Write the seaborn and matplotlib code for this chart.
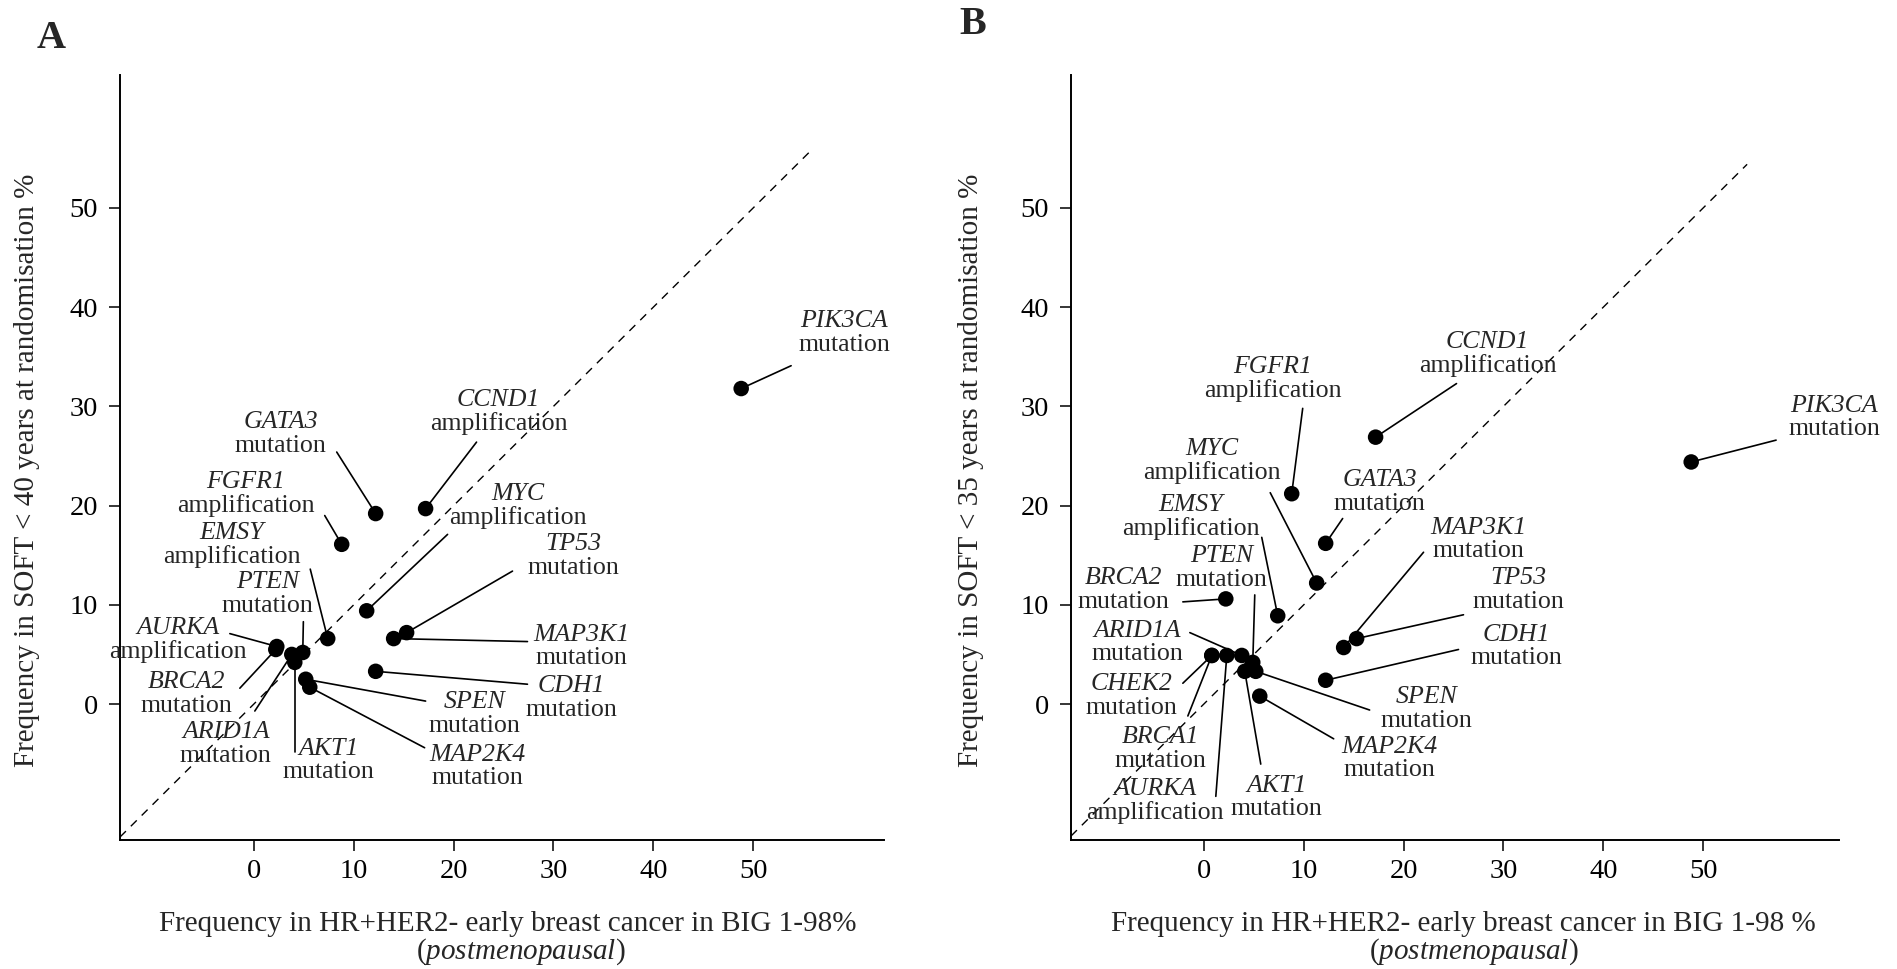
import numpy as np
import pandas as pd
import matplotlib
matplotlib.use("Agg")
import matplotlib.pyplot as plt
import seaborn as sns

# Alteration frequencies (%) per gene
genes = ["PIK3CA", "CCND1", "TP53", "MAP3K1", "GATA3", "CDH1", "MYC", "FGFR1", "EMSY",
         "MAP2K4", "SPEN", "PTEN", "AKT1", "ARID1A", "AURKA", "BRCA2", "CHEK2", "BRCA1"]
alteration = ["mutation", "amplification", "mutation", "mutation", "mutation", "mutation",
              "amplification", "amplification", "amplification", "mutation", "mutation",
              "mutation", "mutation", "mutation", "amplification", "mutation", "mutation",
              "mutation"]
big_1_98 = [48.8, 17.2, 15.3, 14.0, 12.2, 12.2, 11.3, 8.8, 7.4,
            5.6, 5.2, 4.9, 4.1, 3.8, 2.3, 2.2, 0.8, 0.8]
soft_under_40 = [31.8, 19.7, 7.2, 6.6, 19.2, 3.3, 9.4, 16.1, 6.6,
                 1.7, 2.5, 5.2, 4.2, 5.0, 5.8, 5.5, np.nan, np.nan]
soft_under_35 = [24.4, 26.9, 6.6, 5.7, 16.2, 2.4, 12.2, 21.2, 8.9,
                 0.8, 3.3, 4.2, 3.3, 4.9, 4.9, 10.6, 4.9, 4.9]
tick_values = [0, 10, 20, 30, 40, 50]

# Label placement: gene -> (label centre, leader-line start), in data units
labels_a = {
    "PIK3CA": ((59.1, 37.4), (53.8, 34.1)),
    "CCND1": ((24.5, 29.5), (22.3, 26.4)),
    "GATA3": ((2.7, 27.2), (8.3, 25.4)),
    "FGFR1": ((-0.8, 21.2), (7.1, 19.0)),
    "MYC": ((26.4, 20.0), (19.4, 17.1)),
    "EMSY": ((-2.2, 16.1), (5.65, 13.6)),
    "TP53": ((32.0, 14.9), (25.9, 13.4)),
    "PTEN": ((1.4, 11.1), (4.96, 8.3)),
    "AURKA": ((-7.6, 6.5), (-2.4, 7.1)),
    "MAP3K1": ((32.8, 5.8), (27.4, 6.3)),
    "BRCA2": ((-6.7, 1.0), (-1.4, 1.6)),
    "CDH1": ((31.8, 0.6), (27.4, 2.0)),
    "SPEN": ((22.1, -1.0), (17.2, 0.3)),
    "ARID1A": ((-2.8, -4.05), (0.1, -0.7)),
    "AKT1": ((7.5, -5.7), (4.1, -4.8)),
    "MAP2K4": ((22.4, -6.3), (17.1, -4.4)),
}
labels_b = {
    "PIK3CA": ((63.1, 28.9), (57.3, 26.6)),
    "CCND1": ((28.4, 35.3), (25.3, 32.3)),
    "FGFR1": ((6.9, 32.8), (9.9, 29.8)),
    "MYC": ((0.8, 24.5), (6.65, 21.3)),
    "GATA3": ((17.6, 21.4), (13.9, 18.7)),
    "EMSY": ((-1.3, 18.9), (5.8, 16.8)),
    "MAP3K1": ((27.5, 16.6), (22.0, 15.3)),
    "PTEN": ((1.8, 13.7), (5.1, 11.0)),
    "BRCA2": ((-8.0, 11.5), (-2.1, 10.3)),
    "TP53": ((31.5, 11.5), (26.0, 9.0)),
    "ARID1A": ((-6.65, 6.2), (-1.4, 7.2)),
    "CDH1": ((31.3, 5.8), (25.5, 5.5)),
    "CHEK2": ((-7.2, 0.8), (-2.1, 2.1)),
    "SPEN": ((22.3, -0.5), (16.6, -0.6)),
    "BRCA1": ((-4.3, -4.5), (-1.6, -1.2)),
    "MAP2K4": ((18.6, -5.5), (13.0, -3.5)),
    "AKT1": ((7.3, -9.4), (5.7, -6.05)),
    "AURKA": ((-4.85, -9.75), (1.2, -9.3)),
}

sns.set_theme(style="ticks")
plt.rcParams["font.family"] = ["Liberation Serif", "DejaVu Serif"]
plt.rcParams["mathtext.fontset"] = "custom"
plt.rcParams["mathtext.rm"] = "Liberation Serif"
plt.rcParams["mathtext.it"] = "Liberation Serif:italic"

W, H = 1897, 969
fig = plt.figure(figsize=(W / 100, H / 100), dpi=100)


def panel(rect, y_values, label_pos, diag_end, xlim, ylim):
    ax = fig.add_axes(rect)
    df = pd.DataFrame({"gene": genes, "alteration": alteration,
                       "x": big_1_98, "y": y_values}).dropna()
    ax.set_xlim(*xlim)
    ax.set_ylim(*ylim)
    lo = max(xlim[0], ylim[0])
    ax.plot([lo, diag_end], [lo, diag_end], color="black", lw=1.0,
            linestyle=(0, (6, 5)), zorder=1)
    for _, row in df.iterrows():
        (tx, ty), (sx, sy) = label_pos[row["gene"]]
        ax.plot([sx, row["x"]], [sy, row["y"]], color="black", lw=1.2, zorder=2)
        ax.annotate(row["gene"], (tx, ty), xytext=(0, 8.5), textcoords="offset points",
                    ha="center", va="center", fontsize=18.6, style="italic", zorder=3)
        ax.annotate(row["alteration"], (tx, ty), xytext=(0, -8.5), textcoords="offset points",
                    ha="center", va="center", fontsize=18.6, zorder=3)
    sns.scatterplot(data=df, x="x", y="y", ax=ax, color="black", s=125,
                    edgecolor="none", legend=False, zorder=4)
    ax.set_xticks(tick_values)
    ax.set_yticks(tick_values)
    ax.set_xlabel("")
    ax.set_ylabel("")
    sns.despine(ax=ax)
    for side in ("left", "bottom"):
        ax.spines[side].set_linewidth(1.4)
        ax.spines[side].set_color("black")
    ax.tick_params(axis="both", direction="out", length=8, width=1.1,
                   labelsize=20.5, colors="black")
    ax.tick_params(axis="x", pad=6)
    ax.tick_params(axis="y", pad=8)
    ax.set_facecolor("white")
    return ax


bottom = 1 - 840 / H
height = (840 - 75) / H
panel([120 / W, bottom, (884 - 120) / W, height], soft_under_40, labels_a, 56.0,
      (-13.4, 63.1), (-13.7, 63.4))
panel([1071 / W, bottom, (1839 - 1071) / W, height], soft_under_35, labels_b, 54.4,
      (-13.3, 63.6), (-13.7, 63.4))

# Axis titles
fig.text(27 / W, 1 - 470 / H, "Frequency in SOFT < 40 years at randomisation %",
         rotation=90, ha="center", va="center", fontsize=21)
fig.text(971 / W, 1 - 470 / H, "Frequency in SOFT < 35 years at randomisation %",
         rotation=90, ha="center", va="center", fontsize=21)
fig.text(508 / W, 1 - 924 / H, "Frequency in HR+HER2- early breast cancer in BIG 1-98%",
         ha="center", va="center", fontsize=21)
fig.text(521 / W, 1 - 952 / H, r"($\mathit{postmenopausal}$)",
         ha="center", va="center", fontsize=21)
fig.text(1463 / W, 1 - 924 / H, "Frequency in HR+HER2- early breast cancer in BIG 1-98 %",
         ha="center", va="center", fontsize=21)
fig.text(1474 / W, 1 - 952 / H, r"($\mathit{postmenopausal}$)",
         ha="center", va="center", fontsize=21)

# Panel letters
fig.text(51 / W, 1 - 39 / H, "A", ha="center", va="center", fontsize=29, fontweight="bold")
fig.text(973 / W, 1 - 24 / H, "B", ha="center", va="center", fontsize=29, fontweight="bold")

fig.savefig("out.png", dpi=100, facecolor="white")
